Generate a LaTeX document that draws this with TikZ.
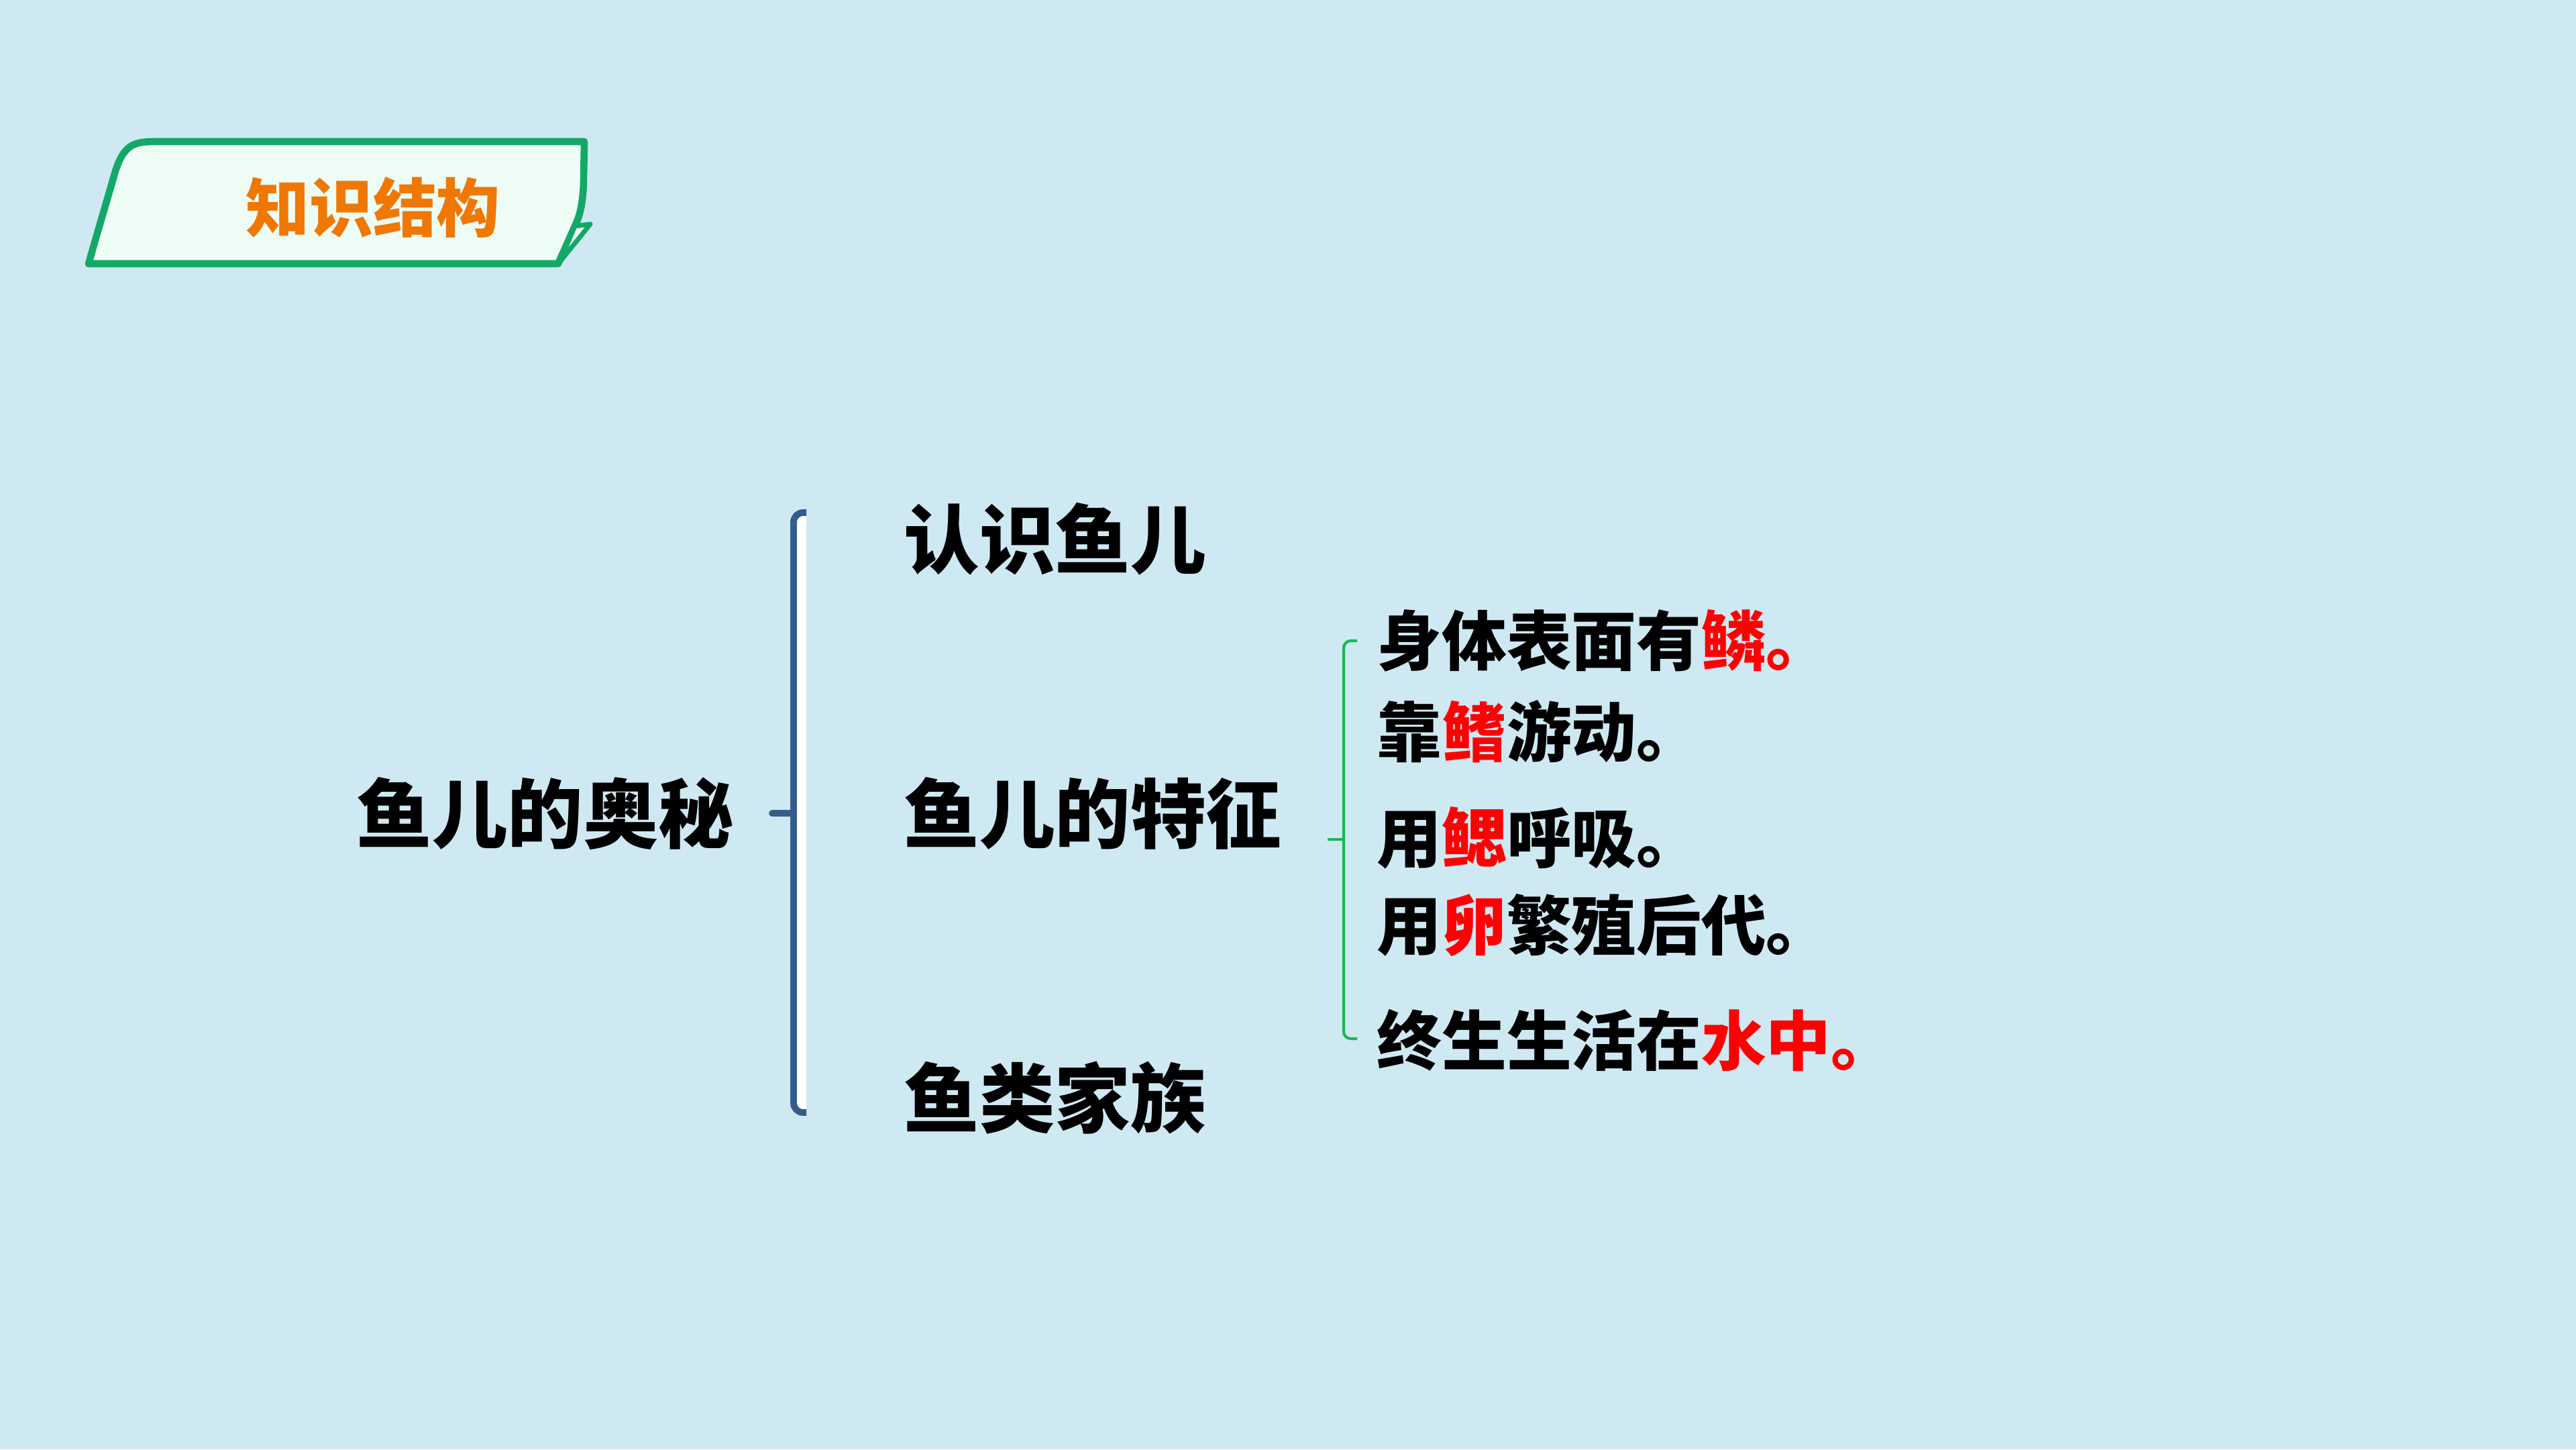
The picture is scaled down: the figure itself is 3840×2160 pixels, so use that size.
\documentclass[tikz,border=0pt]{standalone}
\usepackage{fontspec}
\setmainfont{Noto Sans CJK SC}
\newfontfamily\heavyfont{Noto Sans CJK SC Black}
\usetikzlibrary{positioning}

\definecolor{bgblue}{RGB}{207,233,243}
\definecolor{tabgreen}{RGB}{20,168,104}
\definecolor{tabfill}{RGB}{238,252,246}
\definecolor{titleorange}{RGB}{240,120,0}
\definecolor{braceblue}{RGB}{55,92,140}
\definecolor{bracegreen}{RGB}{30,180,90}
\definecolor{keyred}{RGB}{255,0,0}

\tikzset{
  title/.style={inner sep=0pt, text=titleorange, font=\bfseries\fontsize{27pt}{32pt}\selectfont},
  topic/.style={anchor=west, inner sep=0pt, font=\heavyfont\fontsize{32pt}{38pt}\selectfont},
  fact/.style={anchor=west, inner sep=0pt, font=\heavyfont\fontsize{27.5pt}{33pt}\selectfont},
}

\begin{document}
\begin{tikzpicture}[x=0.01cm, y=-0.01cm]
  \fill[bgblue] (0,0) rectangle (3840,2160);
  \useasboundingbox (0,0) rectangle (3840,2160);

  % Title tab
  \draw[tabgreen, line width=3pt, fill=tabfill, line join=round]
    (132,393) .. controls (150,330) and (162,290) .. (172,255)
    .. controls (185,215) and (200,211) .. (232,211)
    -- (871,211) -- (870,270) .. controls (869,305) and (864,322) .. (857,337)
    -- (832,393) -- cycle;
  \draw[tabgreen, line width=2pt, fill=tabfill, line join=round]
    (857,337) -- (880,334) -- (834,391) -- cycle;
  \node[title] (head) at (556,309) {知识结构};

  % Main brace
  \node[topic] (root) at (531,1212) {鱼儿的奥秘};
  \coordinate (bt) at (1202,764);
  \coordinate (bb) at (1202,1658);
  \coordinate (bm) at (1183,1212);
  \fill[white] (1183,764) rectangle (1202,1658);
  \draw[braceblue, line width=2.8pt, rounded corners=4pt]
    (bt) -- (1183,764) -- (1183,1658) -- (bb);
  \draw[braceblue, line width=2.8pt, line cap=round] (bm) -- (1151,1212);

  \node[topic] (know) at (1347,803) {认识鱼儿};
  \node[topic] (trait) at (1347,1212) {鱼儿的特征};
  \node[topic] (family) at (1347,1636) {鱼类家族};

  % Trait brace
  \coordinate (gt) at (2023,955);
  \coordinate (gb) at (2023,1548);
  \coordinate (gm) at (2003,1251);
  \draw[bracegreen, line width=1.2pt, rounded corners=3pt]
    (gt) -- (2003,955) -- (2003,1548) -- (gb);
  \draw[bracegreen, line width=1.2pt] (gm) -- (1979,1251);

  \foreach \n/\y/\txt in {
      1/955/{身体表面有\textcolor{keyred}{鳞。}},
      2/1090/{靠\textcolor{keyred}{鳍}游动。},
      3/1249/{用\textcolor{keyred}{鳃}呼吸。},
      4/1379/{用\textcolor{keyred}{卵}繁殖后代。},
      5/1550/{终生生活在\textcolor{keyred}{水中。}}} {
    \node[fact] (fact\n) at (2052,\y) {\txt};
  }
\end{tikzpicture}
\end{document}
